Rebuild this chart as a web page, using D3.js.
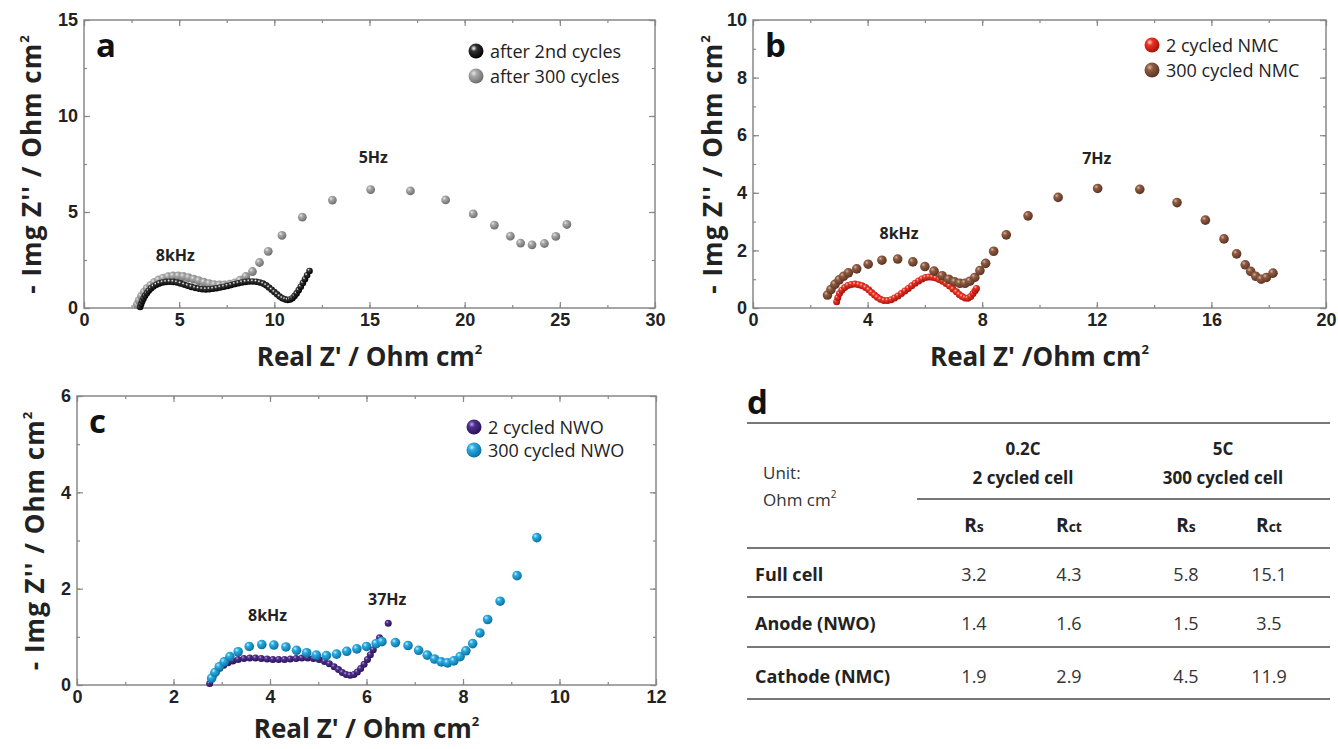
<!DOCTYPE html>
<meta charset="utf-8">
<title>Impedance spectra</title>
<script src="https://cdn.jsdelivr.net/npm/d3@7"></script>
<style>
    body { margin: 0; background: #fff; }
    svg { font-family: "Open Sans", sans-serif; }
    .tick text { font-weight: 700; font-size: 18px; fill: #222; }
    .tick line { stroke: #888; stroke-width: 1.2px; }
    .frame { fill: none; stroke: #888; stroke-width: 1.5px; }
    .axis-title { font-weight: 700; font-size: 26px; fill: #222; }
    .panel-letter { font-weight: 700; font-size: 33px; fill: #111; }
    .legend { font-size: 18px; fill: #222; }
    .freq { font-weight: 700; font-size: 16px; fill: #222; }
    .tbl-line { stroke: #777; stroke-width: 2px; }
    .tbl-head { font-weight: 700; font-size: 17px; fill: #222; }
    .tbl-row { font-weight: 700; font-size: 18px; fill: #222; }
    .tbl-val { font-size: 18px; fill: #333; }
    .tbl-unit { font-size: 17px; fill: #333; }
</style>
<body>
<svg id="chart" width="1338" height="749"></svg>
<script>
// ---- data (x = Real Z', y = -Img Z'') ----
var full2 = [[2.95,0.05],[3.0,0.2],[3.06,0.35],[3.13,0.5],[3.21,0.64],[3.3,0.77],[3.4,0.9],[3.52,1.02],[3.65,1.12],[3.8,1.21],[3.96,1.28],[4.13,1.33],[4.31,1.36],[4.5,1.37],[4.69,1.36],[4.88,1.33],[5.07,1.28],[5.26,1.22],[5.45,1.16],[5.64,1.1],[5.83,1.05],[6.02,1.01],[6.21,0.98],[6.4,0.97],[6.59,0.98],[6.78,1.0],[6.97,1.03],[7.16,1.07],[7.35,1.11],[7.54,1.15],[7.73,1.2],[7.92,1.25],[8.11,1.29],[8.3,1.33],[8.49,1.36],[8.68,1.38],[8.87,1.38],[9.06,1.37],[9.24,1.33],[9.41,1.27],[9.57,1.18],[9.72,1.07],[9.86,0.95],[10.0,0.83],[10.14,0.71],[10.28,0.6],[10.42,0.51],[10.56,0.45],[10.7,0.42],[10.83,0.44],[10.95,0.51],[11.06,0.62],[11.17,0.76],[11.28,0.93],[11.39,1.11],[11.5,1.3],[11.61,1.5],[11.72,1.7],[11.85,1.93]];
var full300 = [[2.8,0.18],[2.9,0.4],[3.02,0.62],[3.16,0.83],[3.32,1.02],[3.5,1.18],[3.7,1.33],[3.92,1.46],[4.16,1.56],[4.42,1.63],[4.68,1.67],[4.95,1.67],[5.22,1.64],[5.49,1.58],[5.76,1.5],[6.03,1.42],[6.3,1.34],[6.57,1.27],[6.84,1.22],[7.11,1.2],[7.38,1.2],[7.65,1.24],[7.92,1.31],[8.2,1.45],[8.5,1.64],[8.85,1.9],[9.22,2.37],[9.68,2.95],[10.4,3.78],[11.47,4.73],[13.05,5.62],[15.06,6.17],[17.15,6.1],[19.0,5.63],[20.45,4.9],[21.56,4.32],[22.4,3.74],[22.94,3.38],[23.54,3.29],[24.19,3.36],[24.79,3.73],[25.37,4.35]];

var nmc2 = [[2.92,0.22],[2.96,0.36],[3.02,0.5],[3.1,0.62],[3.2,0.71],[3.31,0.78],[3.43,0.82],[3.56,0.83],[3.69,0.81],[3.81,0.77],[3.93,0.71],[4.04,0.63],[4.14,0.54],[4.24,0.45],[4.34,0.37],[4.45,0.3],[4.57,0.26],[4.7,0.26],[4.82,0.29],[4.94,0.35],[5.06,0.42],[5.18,0.5],[5.3,0.59],[5.42,0.68],[5.54,0.77],[5.66,0.86],[5.78,0.94],[5.9,1.01],[6.02,1.06],[6.14,1.08],[6.26,1.07],[6.38,1.04],[6.5,0.99],[6.62,0.93],[6.74,0.85],[6.86,0.76],[6.98,0.66],[7.1,0.56],[7.2,0.47],[7.3,0.4],[7.4,0.35],[7.5,0.34],[7.6,0.4],[7.68,0.5],[7.75,0.6],[7.8,0.68]];
var nmc300 = [[2.6,0.45],[2.72,0.64],[2.86,0.82],[3.01,0.98],[3.16,1.1],[3.33,1.22],[3.62,1.36],[4.02,1.52],[4.5,1.66],[5.05,1.7],[5.58,1.6],[6.0,1.44],[6.32,1.28],[6.6,1.12],[6.83,1.0],[7.04,0.91],[7.22,0.86],[7.4,0.86],[7.57,0.93],[7.74,1.06],[7.92,1.3],[8.12,1.55],[8.4,1.97],[8.84,2.54],[9.6,3.2],[10.65,3.84],[12.03,4.15],[13.5,4.12],[14.8,3.66],[15.79,3.05],[16.44,2.4],[16.88,1.88],[17.18,1.5],[17.37,1.27],[17.55,1.1],[17.74,1.0],[17.92,1.06],[18.15,1.21]];

var nwo2 = [[2.75,0.03],[2.78,0.12],[2.83,0.2],[2.89,0.28],[2.96,0.35],[3.04,0.41],[3.13,0.46],[3.23,0.5],[3.34,0.53],[3.46,0.55],[3.58,0.56],[3.7,0.56],[3.82,0.55],[3.94,0.54],[4.06,0.53],[4.18,0.53],[4.3,0.53],[4.42,0.54],[4.54,0.55],[4.66,0.56],[4.78,0.56],[4.9,0.55],[5.02,0.53],[5.13,0.49],[5.23,0.44],[5.33,0.38],[5.42,0.32],[5.5,0.26],[5.58,0.22],[5.66,0.2],[5.74,0.22],[5.81,0.27],[5.88,0.34],[5.95,0.43],[6.02,0.53],[6.08,0.63],[6.14,0.73],[6.2,0.84],[6.27,0.98],[6.45,1.28]];
var nwo300 = [[2.79,0.14],[2.86,0.26],[2.95,0.38],[3.05,0.48],[3.17,0.59],[3.34,0.69],[3.57,0.8],[3.83,0.84],[4.08,0.83],[4.33,0.79],[4.55,0.72],[4.76,0.67],[4.96,0.62],[5.17,0.61],[5.38,0.64],[5.59,0.7],[5.8,0.75],[6.0,0.8],[6.2,0.86],[6.32,0.9],[6.6,0.88],[6.86,0.82],[7.08,0.72],[7.26,0.62],[7.41,0.54],[7.55,0.48],[7.68,0.46],[7.81,0.5],[7.94,0.59],[8.06,0.71],[8.2,0.86],[8.35,1.08],[8.51,1.36],[8.77,1.74],[9.12,2.27],[9.53,3.06]];

// tick values
var aXTicks = [0, 5, 10, 15, 20, 25, 30], aYTicks = [0, 5, 10, 15];
var bXTicks = [0, 4, 8, 12, 16, 20], bYTicks = [0, 2, 4, 6, 8, 10];
var cXTicks = [0, 2, 4, 6, 8, 10, 12], cYTicks = [0, 2, 4, 6];

// table d
var tableGroups = [["0.2C", "2 cycled cell"], ["5C", "300 cycled cell"]];
var tableCols = ["Rs", "Rct", "Rs", "Rct"];
var tableRows = ["Full cell", "Anode (NWO)", "Cathode (NMC)"];
var tableValues = [["3.2", "4.3", "5.8", "15.1"], ["1.4", "1.6", "1.5", "3.5"], ["1.9", "2.9", "4.5", "11.9"]];

var svg = d3.select("#chart");
var defs = svg.append("defs");

// shaded sphere gradients
function sphere(id, hi, mid, dark) {
    var g = defs.append("radialGradient").attr("id", id)
        .attr("cx", "35%").attr("cy", "32%").attr("r", "70%");
    g.append("stop").attr("offset", "0%").attr("stop-color", hi);
    g.append("stop").attr("offset", "30%").attr("stop-color", mid);
    g.append("stop").attr("offset", "100%").attr("stop-color", dark);
}
sphere("g-black", "#ffffff", "#333", "#000");
sphere("g-gray", "#e8e8e8", "#a8a8a8", "#6e6e6e");
sphere("g-red", "#ffd0c8", "#ec3324", "#a3120b");
sphere("g-brown", "#d9b6a2", "#8f5c43", "#5a3322");
sphere("g-purple", "#b8a6e0", "#4f2f8c", "#2a1256");
sphere("g-cyan", "#c8f0ff", "#2aace2", "#0c6f9e");

function panel(cfg) {
    var x = d3.scaleLinear().domain(cfg.xd).range([cfg.l, cfg.r]);
    var y = d3.scaleLinear().domain(cfg.yd).range([cfg.b, cfg.t]);
    var g = svg.append("g");

    var xMinor = d3.range(cfg.xd[0], cfg.xd[1] + 1e-9, cfg.xm);
    var yMinor = d3.range(cfg.yd[0], cfg.yd[1] + 1e-9, cfg.ym);

    // minor ticks on all four sides
    g.append("g").attr("transform", "translate(0," + cfg.b + ")")
        .call(d3.axisBottom(x).tickValues(xMinor).tickSize(-3).tickFormat(""));
    g.append("g").attr("transform", "translate(0," + cfg.t + ")")
        .call(d3.axisTop(x).tickValues(xMinor).tickSize(-3).tickFormat(""));
    g.append("g").attr("transform", "translate(" + cfg.l + ",0)")
        .call(d3.axisLeft(y).tickValues(yMinor).tickSize(-3).tickFormat(""));
    g.append("g").attr("transform", "translate(" + cfg.r + ",0)")
        .call(d3.axisRight(y).tickValues(yMinor).tickSize(-3).tickFormat(""));

    // major ticks
    g.append("g").attr("transform", "translate(0," + cfg.b + ")")
        .call(d3.axisBottom(x).tickValues(cfg.xt).tickSize(-6).tickPadding(5).tickFormat(d3.format("d")));
    g.append("g").attr("transform", "translate(0," + cfg.t + ")")
        .call(d3.axisTop(x).tickValues(cfg.xt).tickSize(-6).tickFormat(""));
    g.append("g").attr("transform", "translate(" + cfg.l + ",0)")
        .call(d3.axisLeft(y).tickValues(cfg.yt).tickSize(-6).tickPadding(6).tickFormat(d3.format("d")));
    g.append("g").attr("transform", "translate(" + cfg.r + ",0)")
        .call(d3.axisRight(y).tickValues(cfg.yt).tickSize(-6).tickFormat(""));

    g.selectAll(".domain").remove();

    g.append("rect").attr("class", "frame")
        .attr("x", cfg.l).attr("y", cfg.t)
        .attr("width", cfg.r - cfg.l).attr("height", cfg.b - cfg.t);

    // series
    cfg.series.forEach(function (s) {
        g.append("g").selectAll("circle")
            .data(s.data)
            .enter()
            .append("circle")
            .attr("cx", function (d) { return x(d[0]); })
            .attr("cy", function (d) { return y(d[1]); })
            .attr("r", s.r)
            .attr("fill", "url(#" + s.grad + ")");
    });

    // legend
    cfg.legend.forEach(function (item, i) {
        var ly = cfg.legY + i * cfg.legDy;
        g.append("circle").attr("cx", cfg.legX).attr("cy", ly).attr("r", 7.5)
            .attr("fill", "url(#" + item.grad + ")");
        g.append("text").attr("class", "legend").attr("x", cfg.legX + 14).attr("y", ly + 6.5)
            .style("font-size", cfg.legFs + "px").text(item.label);
    });

    // frequency notes
    cfg.notes.forEach(function (n) {
        g.append("text").attr("class", "freq").attr("text-anchor", "middle")
            .attr("x", x(n.x)).attr("y", y(n.y)).text(n.t);
    });

    g.append("text").attr("class", "panel-letter")
        .attr("x", cfg.l + 12).attr("y", cfg.t + 37).text(cfg.letter);

    // axis titles
    var xt = g.append("text").attr("class", "axis-title").attr("text-anchor", "middle")
        .attr("x", (cfg.l + cfg.r) / 2).attr("y", cfg.b + cfg.xTitleDy);
    xt.append("tspan").text(cfg.xTitle);
    xt.append("tspan").attr("dy", -12).style("font-size", "13px").text("2");

    var cy = (cfg.t + cfg.b) / 2;
    var yt = g.append("text").attr("class", "axis-title").attr("text-anchor", "middle")
        .style("letter-spacing", "1px")
        .attr("transform", "translate(" + cfg.yTitleX + "," + cy + ") rotate(-90)");
    yt.append("tspan").text(cfg.yTitle);
    yt.append("tspan").attr("dy", -12).style("font-size", "13px").text("2");
}

panel({
    l: 84, r: 655, t: 20, b: 308, xd: [0, 30], yd: [0, 15], xt: aXTicks, yt: aYTicks, xm: 2.5, ym: 2.5,
    letter: "a", xTitle: "Real Z'  / Ohm cm", yTitle: "- Img Z'' / Ohm cm", yTitleX: 41, xTitleDy: 58,
    series: [{ data: full300, grad: "g-gray", r: 4.4 }, { data: full2, grad: "g-black", r: 3.3 }],
    legend: [{ label: "after 2nd cycles", grad: "g-black" }, { label: "after 300 cycles", grad: "g-gray" }],
    legX: 476, legY: 51, legDy: 25, legFs: 18,
    notes: [{ x: 4.8, y: 2.45, t: "8kHz" }, { x: 15.2, y: 7.55, t: "5Hz" }]
});

panel({
    l: 753, r: 1326, t: 20, b: 308, xd: [0, 20], yd: [0, 10], xt: bXTicks, yt: bYTicks, xm: 2, ym: 1,
    letter: "b", xTitle: "Real Z' /Ohm cm", yTitle: "- Img Z'' / Ohm cm", yTitleX: 722, xTitleDy: 58,
    series: [{ data: nmc2, grad: "g-red", r: 3.5 }, { data: nmc300, grad: "g-brown", r: 4.8 }],
    legend: [{ label: "2 cycled NMC", grad: "g-red" }, { label: "300 cycled NMC", grad: "g-brown" }],
    legX: 1152, legY: 45, legDy: 25, legFs: 18,
    notes: [{ x: 5.1, y: 2.4, t: "8kHz" }, { x: 12, y: 5.0, t: "7Hz" }]
});

panel({
    l: 77, r: 656, t: 396, b: 685, xd: [0, 12], yd: [0, 6], xt: cXTicks, yt: cYTicks, xm: 1, ym: 1,
    letter: "c", xTitle: "Real Z' / Ohm cm", yTitle: "- Img Z'' / Ohm cm", yTitleX: 44, xTitleDy: 53,
    series: [{ data: nwo2, grad: "g-purple", r: 3.5 }, { data: nwo300, grad: "g-cyan", r: 4.8 }],
    legend: [{ label: "2 cycled NWO", grad: "g-purple" }, { label: "300 cycled NWO", grad: "g-cyan" }],
    legX: 474, legY: 427, legDy: 23, legFs: 18,
    notes: [{ x: 3.95, y: 1.33, t: "8kHz" }, { x: 6.43, y: 1.66, t: "37Hz" }]
});

// ---- table d ----
var tb = svg.append("g");
var tL = 747, tR = 1330;
var colX = [974, 1069, 1186, 1269];
var groupX = [1023, 1223];
var rowY = [581, 630, 683];

tb.append("text").attr("class", "panel-letter").attr("x", tL).attr("y", 414).text("d");

[[tL, 423], [917, 499], [tL, 548], [tL, 597], [tL, 647], [tL, 699]].forEach(function (ln) {
    tb.append("line").attr("class", "tbl-line")
        .attr("x1", ln[0]).attr("x2", tR).attr("y1", ln[1]).attr("y2", ln[1]);
});

tableGroups.forEach(function (gp, i) {
    tb.append("text").attr("class", "tbl-head").attr("text-anchor", "middle")
        .attr("x", groupX[i]).attr("y", 455).text(gp[0]);
    tb.append("text").attr("class", "tbl-head").attr("text-anchor", "middle")
        .attr("x", groupX[i]).attr("y", 484).text(gp[1]);
});

tb.append("text").attr("class", "tbl-unit").attr("x", 763).attr("y", 479).text("Unit:");
var unit = tb.append("text").attr("class", "tbl-unit").attr("x", 763).attr("y", 506);
unit.append("tspan").text("Ohm cm");
unit.append("tspan").attr("dy", -8).style("font-size", "10px").text("2");

tableCols.forEach(function (c, i) {
    var t = tb.append("text").attr("class", "tbl-head").attr("text-anchor", "middle")
        .attr("x", colX[i]).attr("y", 532);
    t.append("tspan").style("font-size", "19px").text("R");
    t.append("tspan").style("font-size", "14px").text(c.slice(1));
});

tableRows.forEach(function (r, i) {
    tb.append("text").attr("class", "tbl-row").attr("x", 755).attr("y", rowY[i]).text(r);
    tableValues[i].forEach(function (v, j) {
        tb.append("text").attr("class", "tbl-val").attr("text-anchor", "middle")
            .attr("x", colX[j]).attr("y", rowY[i]).text(v);
    });
});
</script>
</body>
